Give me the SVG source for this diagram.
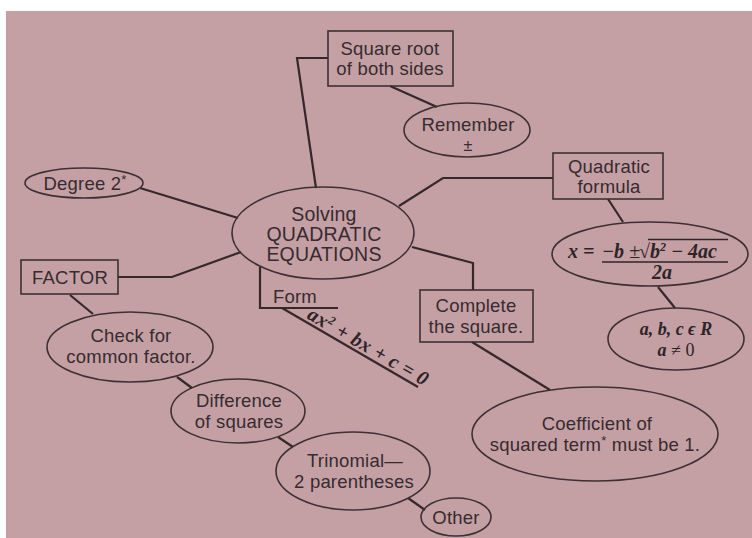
<svg xmlns="http://www.w3.org/2000/svg" width="752" height="538" viewBox="0 0 752 538">
<style>
.bg{fill:#c4a0a4}
.n{fill:none;stroke:#3d3034;stroke-width:1.6}
.c{fill:none;stroke:#35282b;stroke-width:2.2;stroke-linejoin:miter}
.t{font-family:"Liberation Sans",Arial,sans-serif;font-size:18.5px;letter-spacing:0.2px;fill:#362b2f;text-anchor:middle}
.tc{font-size:19.5px}
.m{font-family:"Liberation Serif","Times New Roman",serif;font-weight:bold;font-style:italic;font-size:20px;fill:#2e2428}
.s{font-size:18px}
.r{font-style:normal;font-weight:normal}
</style>
<rect x="0" y="0" width="752" height="538" fill="#ffffff"/>
<rect class="bg" x="6" y="11" width="746" height="527"/>
<g id="connectors">
<polyline class="c" points="316,188 297,58 328,58"/>
<line class="c" x1="390" y1="86" x2="437" y2="107"/>
<polyline class="c" points="399,206 443,178 553,178"/>
<line class="c" x1="608" y1="199" x2="623" y2="222"/>
<line class="c" x1="658" y1="287" x2="675" y2="308"/>
<line class="c" x1="238" y1="218" x2="140" y2="188"/>
<polyline class="c" points="241,252 172,277 118,277"/>
<line class="c" x1="70" y1="295" x2="93" y2="314"/>
<line class="c" x1="177" y1="377" x2="192" y2="388"/>
<line class="c" x1="278" y1="437" x2="293" y2="447"/>
<line class="c" x1="408" y1="498" x2="425" y2="510"/>
<polyline class="c" points="260,267 260,308 338,308"/>
<line class="c" x1="282" y1="308" x2="418" y2="387"/>
<polyline class="c" points="412,247 473,263 473,290"/>
<line class="c" x1="472" y1="342" x2="550" y2="390"/>
</g>
<g id="center">
<ellipse class="n" cx="323" cy="233" rx="91" ry="46"/>
<text class="t tc" x="324" y="221">Solving</text>
<text class="t tc" x="324" y="241">QUADRATIC</text>
<text class="t tc" x="324" y="261">EQUATIONS</text>
</g>
<g id="sqroot">
<rect class="n" x="328" y="31" width="125" height="55"/>
<text class="t" x="390" y="55">Square root</text>
<text class="t" x="390" y="75">of both sides</text>
</g>
<g id="remember">
<ellipse class="n" cx="467" cy="130" rx="63" ry="27"/>
<text class="t" x="468" y="131">Remember</text>
<text class="t" x="468" y="151" style="font-size:16px">±</text>
</g>
<g id="qformula">
<rect class="n" x="553" y="153" width="110" height="46"/>
<text class="t" x="609" y="173">Quadratic</text>
<text class="t" x="609" y="193">formula</text>
</g>
<g id="formula">
<ellipse class="n" cx="650" cy="254" rx="98" ry="32"/>
<text class="m" x="568" y="258">x =</text>
<text class="m" x="602" y="258">−b <tspan class="r">±</tspan></text>
<text class="m r" x="639" y="258">√</text>
<text class="m" x="650" y="258">b<tspan dy="-7" style="font-size:12px">2</tspan><tspan dy="7"> − 4ac</tspan></text>
<line x1="648" y1="239.5" x2="728" y2="239.5" stroke="#2e2428" stroke-width="1.4"/>
<line x1="602" y1="262" x2="728" y2="262" stroke="#2e2428" stroke-width="1.6"/>
<text class="m" x="662" y="279" text-anchor="middle">2a</text>
</g>
<g id="abc">
<ellipse class="n" cx="676" cy="339" rx="68" ry="31"/>
<text class="m s" x="676" y="335" text-anchor="middle">a, b, c ϵ R</text>
<text class="m s" x="676" y="356" text-anchor="middle">a <tspan class="r">≠ 0</tspan></text>
</g>
<g id="degree">
<ellipse class="n" cx="84" cy="183" rx="59" ry="15"/>
<text class="t" x="85" y="190">Degree 2<tspan dy="-6" style="font-size:13px">*</tspan></text>
</g>
<g id="factor">
<rect class="n" x="21" y="260" width="97" height="34"/>
<text class="t" x="70" y="284">FACTOR</text>
</g>
<g id="check">
<ellipse class="n" cx="130" cy="347" rx="83" ry="35"/>
<text class="t" x="131" y="342">Check for</text>
<text class="t" x="131" y="363">common factor.</text>
</g>
<g id="difference">
<ellipse class="n" cx="238" cy="411" rx="67" ry="32"/>
<text class="t" x="239" y="407">Difference</text>
<text class="t" x="239" y="428">of squares</text>
</g>
<g id="trinomial">
<ellipse class="n" cx="353" cy="471" rx="77" ry="39"/>
<text class="t" x="355" y="467">Trinomial—</text>
<text class="t" x="354" y="488">2 parentheses</text>
</g>
<g id="other">
<ellipse class="n" cx="456" cy="517" rx="35" ry="19"/>
<text class="t" x="456" y="524">Other</text>
</g>
<g id="form">
<text class="t" x="273" y="303" style="text-anchor:start">Form</text>
<text class="m" transform="translate(306,318) rotate(30)" textLength="136">ax<tspan dy="-7" style="font-size:12px">2</tspan><tspan dy="7"> + bx + c = 0</tspan></text>
</g>
<g id="complete">
<rect class="n" x="420" y="290" width="113" height="52"/>
<text class="t" x="476" y="312">Complete</text>
<text class="t" x="476" y="333">the square.</text>
</g>
<g id="coefficient">
<ellipse class="n" cx="595" cy="434" rx="123" ry="47"/>
<text class="t" x="597" y="430">Coefficient of</text>
<text class="t" x="595" y="451">squared term<tspan dy="-6" style="font-size:13px">*</tspan><tspan dy="6"> must be 1.</tspan></text>
</g>
</svg>
